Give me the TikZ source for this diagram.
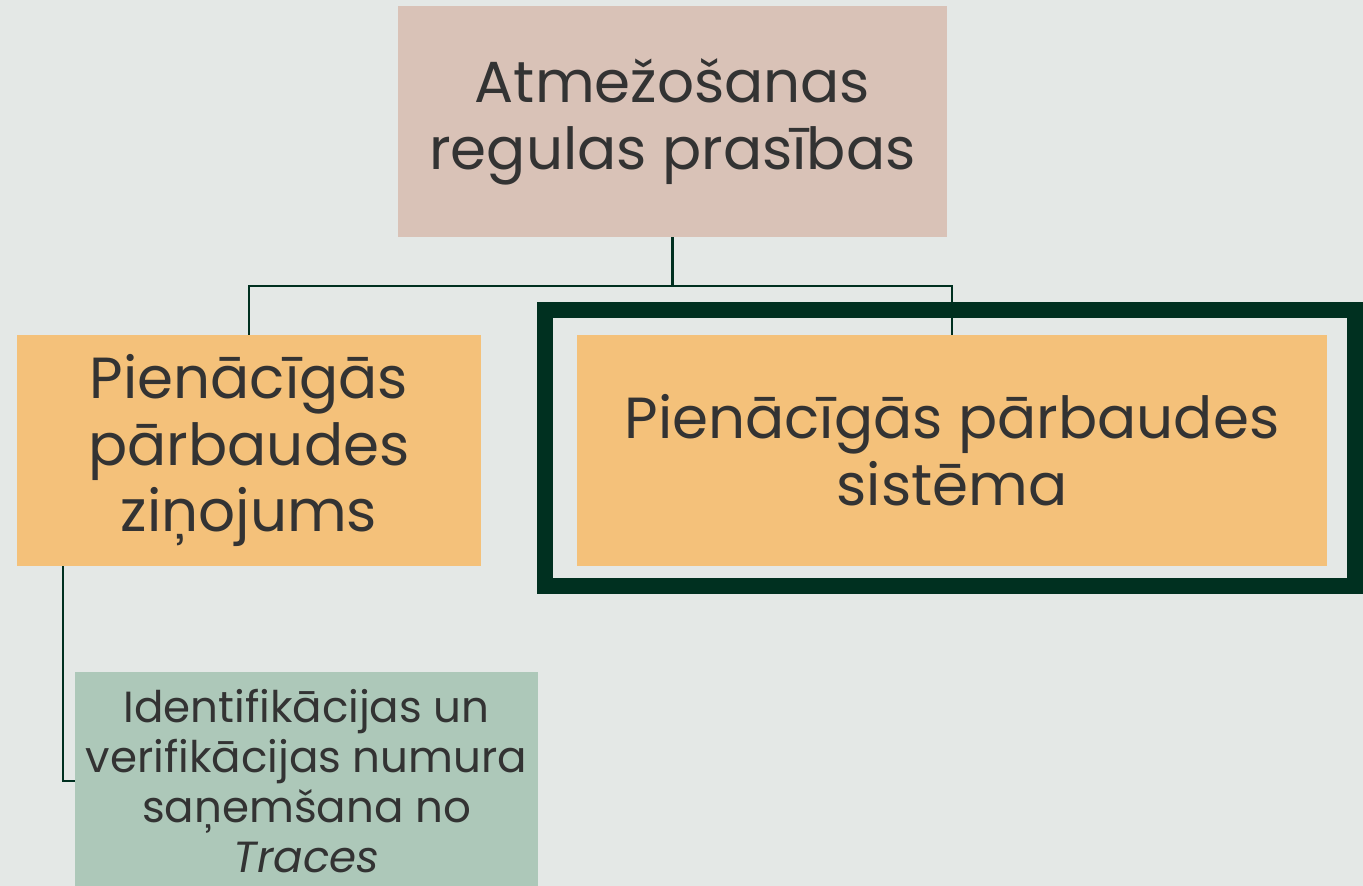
\documentclass[tikz,border=0pt]{standalone}
\usepackage{fontspec}
\setmainfont{Poppins}
\definecolor{bgcol}{HTML}{E4E8E6}
\definecolor{rosecol}{HTML}{D9C2B7}
\definecolor{sandcol}{HTML}{F4C17A}
\definecolor{sagecol}{HTML}{ADC8B9}
\definecolor{pinecol}{HTML}{003020}
\definecolor{inkcol}{HTML}{333333}
\begin{document}
\begin{tikzpicture}[x=0.02cm, y=-0.02cm,
    box/.style={inner sep=0pt, align=center, text=inkcol, minimum height=4.62cm},
    bigtext/.style={font=\fontsize{33}{38}\selectfont},
    smalltext/.style={font=\fontsize{24.8}{28.5}\selectfont},
    link/.style={draw=pinecol, line width=1.2pt}]
\fill[bgcol] (0,0) rectangle (1363,886);
\useasboundingbox (0,0) rectangle (1363,886);

\node[box, bigtext, fill=rosecol, minimum width=10.98cm] (rules) at (672.5,121.5) {Atmežošanas\\regulas prasības};
\node[box, bigtext, fill=sandcol, minimum width=9.28cm] (report) at (249,450.5) {Pienācīgās\\pārbaudes\\ziņojums};
\node[box, bigtext, fill=sandcol, minimum width=15cm] (system) at (952,450.5) {Pienācīgās pārbaudes\\sistēma};
\node[box, smalltext, fill=sagecol, minimum width=9.26cm, minimum height=4.36cm] (traces) at (306.5,781) {Identifikācijas un\\verifikācijas numura\\saņemšana no\\\textit{Traces}};

\draw[link] (rules.south) -- ++(0,49) -| (report.north);
\draw[link] (rules.south) -- ++(0,49) -| (system.north);
\draw[link] ([xshift=0.92cm]report.south west) |- (traces.west);

\draw[pinecol, line width=9.1pt] (545,310) rectangle (1355,586);
\end{tikzpicture}
\end{document}
